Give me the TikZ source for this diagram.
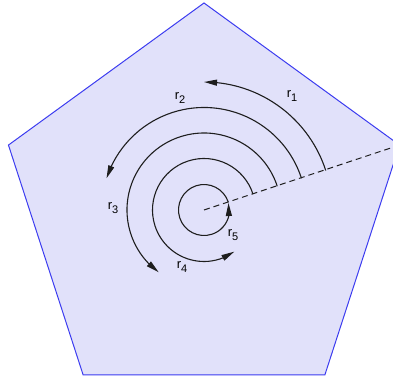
\documentclass[tikz,border=0pt]{standalone}
\usepackage{fontspec}
\setmainfont{Liberation Sans}
\usetikzlibrary{arrows.meta,bending,calc}
\definecolor{penfill}{RGB}{225,225,250}
\definecolor{penedge}{RGB}{60,60,240}
\definecolor{arcgray}{RGB}{30,30,30}
\newcommand{\rlab}[1]{r\raisebox{-4pt}{\fontsize{11}{12}\selectfont #1}}
\begin{document}
\begin{tikzpicture}[x=1pt,y=1pt,
  arcline/.style={draw=arcgray,line width=1.1pt,-{Triangle[length=13pt,width=6pt]}},
  lab/.style={inner sep=0pt,font=\fontsize{13}{15}\selectfont}]
\useasboundingbox (0,0) rectangle (393,378);
\clip (0,0) rectangle (393,378);
\coordinate (P) at (204,169.4);
\coordinate (C) at (204,168);
\coordinate (V1) at ([shift={(90:205.6)}]P);
\coordinate (V2) at ([shift={(162:205.6)}]P);
\coordinate (V3) at ([shift={(234:205.6)}]P);
\coordinate (V4) at ([shift={(306:205.6)}]P);
\coordinate (V5) at ([shift={(18:205.6)}]P);
\filldraw[fill=penfill,draw=penedge,line width=1pt,line join=miter] (V1) -- (V2) -- (V3) -- (V4) -- (V5) -- cycle;
\draw[arcgray,line width=1pt,dash pattern=on 6pt off 4pt] (C) -- (V5);
\draw[arcline] ([shift={(18:128)}]C) arc[start angle=18,end angle=90,radius=128];
\draw[arcline] ([shift={(18:102.5)}]C) arc[start angle=18,end angle=162,radius=102.5];
\draw[arcline] ([shift={(18:77)}]C) arc[start angle=18,end angle=234,radius=77];
\draw[arcline] ([shift={(18:51.5)}]C) arc[start angle=18,end angle=306,radius=51.5];
\draw[arcline] ([shift={(18:25.5)}]C) arc[start angle=18,end angle=376,radius=25.5];
\node[lab] (l1) at (292,282) {\rlab{1}};
\node[lab] (l2) at (180,280) {\rlab{2}};
\node[lab] (l3) at (113,170) {\rlab{3}};
\node[lab] (l4) at (182,111) {\rlab{4}};
\node[lab] (l5) at (233,143) {\rlab{5}};
\end{tikzpicture}
\end{document}
